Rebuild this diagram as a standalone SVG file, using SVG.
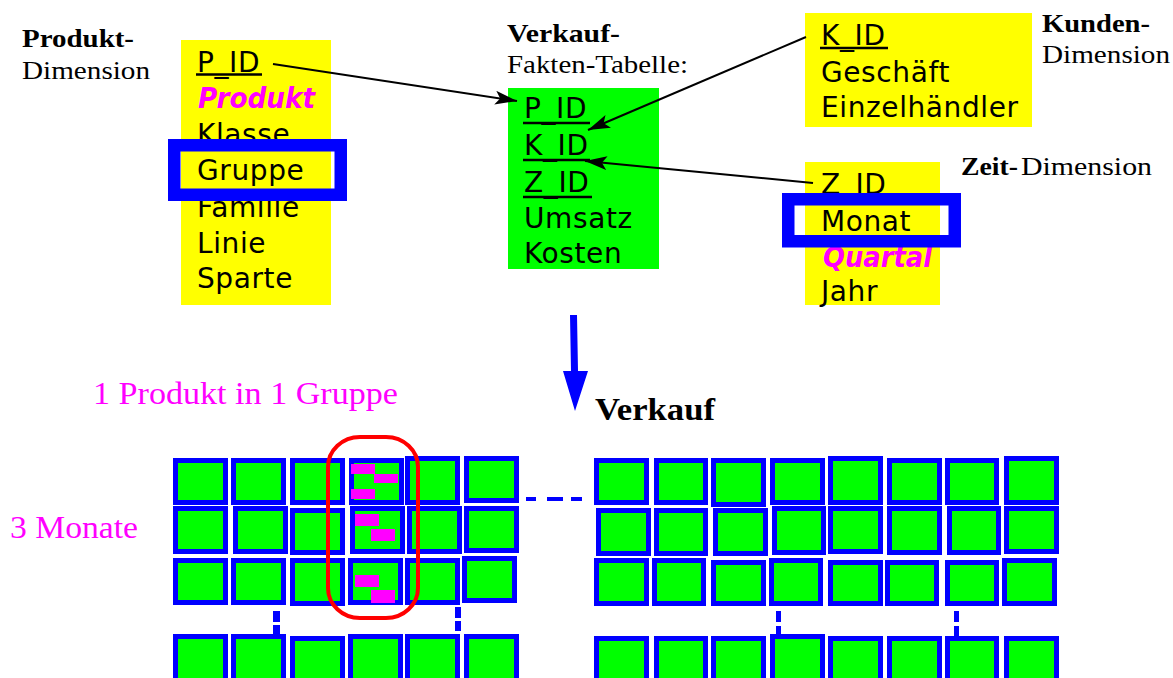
<svg xmlns="http://www.w3.org/2000/svg" width="1173" height="678" viewBox="0 0 1173 678">
<style>
.t{font-family:"DejaVu Sans","Noto Sans",sans-serif;font-size:28px;letter-spacing:0.6px;fill:#000}
.em{font-family:"DejaVu Sans","Noto Sans",sans-serif;font-size:28px;font-weight:bold;font-style:italic;fill:#ff00ff}
.lb{font-family:"Liberation Serif","Times New Roman",serif;font-size:26px;fill:#000}
.b{font-weight:bold}
.mg{font-family:"Liberation Serif","Times New Roman",serif;font-size:32px;fill:#ff00ff}
.ul{stroke:#000;stroke-width:2.5}
.hl{fill:none;stroke:#0000ff;stroke-width:12.5}
.c{fill:#00ff00;stroke:#0000ff;stroke-width:5}
.pk{fill:#ff00ff}
.dash{fill:#0000ff}
.conn{fill:none;stroke:#000;stroke-width:2}
</style>
<defs>
<marker id="ah" markerUnits="userSpaceOnUse" markerWidth="24" markerHeight="16" refX="22" refY="7" orient="auto">
<path d="M0,0 L22,7 L0,14 L5,7 Z" fill="#000"/>
</marker>
</defs>

<g id="produkt-dimension">
<rect x="181" y="40" width="150" height="265" fill="#ffff00"/>
<text class="t" x="197" y="72">P_ID</text>
<line class="ul" x1="196" y1="74.5" x2="262" y2="74.5"/>
<text class="em" x="198" y="108" textLength="117" lengthAdjust="spacingAndGlyphs">Produkt</text>
<text class="t" x="197" y="144">Klasse</text>
<text class="t" x="197" y="180">Gruppe</text>
<text class="t" x="197" y="217">Familie</text>
<text class="t" x="197" y="253">Linie</text>
<text class="t" x="197" y="288">Sparte</text>
<rect class="hl" x="174.25" y="145.25" width="166.5" height="49.5"/>
<text class="lb b" x="22" y="47" textLength="112" lengthAdjust="spacingAndGlyphs">Produkt-</text>
<text class="lb" x="22" y="79" textLength="128" lengthAdjust="spacingAndGlyphs">Dimension</text>
</g>

<g id="verkauf-fakten">
<rect x="508" y="88" width="151" height="181" fill="#00ff00"/>
<text class="t" x="524" y="118">P_ID</text>
<line class="ul" x1="523" y1="123" x2="590" y2="123"/>
<text class="t" x="524" y="155">K_ID</text>
<line class="ul" x1="523" y1="160" x2="590" y2="160"/>
<text class="t" x="524" y="192">Z_ID</text>
<line class="ul" x1="523" y1="197" x2="592" y2="197"/>
<text class="t" x="524" y="228">Umsatz</text>
<text class="t" x="524" y="263">Kosten</text>
<text class="lb b" x="507" y="42" textLength="113" lengthAdjust="spacingAndGlyphs">Verkauf-</text>
<text class="lb" x="507" y="73" textLength="181" lengthAdjust="spacingAndGlyphs">Fakten-Tabelle:</text>
</g>

<g id="kunden-dimension">
<rect x="805" y="13" width="227" height="114" fill="#ffff00"/>
<text class="t" x="821" y="45">K_ID</text>
<line class="ul" x1="820" y1="48" x2="888" y2="48"/>
<text class="t" x="821" y="82">Geschäft</text>
<text class="t" x="821" y="117">Einzelhändler</text>
<text class="lb b" x="1042" y="32" textLength="108" lengthAdjust="spacingAndGlyphs">Kunden-</text>
<text class="lb" x="1042" y="63" textLength="128" lengthAdjust="spacingAndGlyphs">Dimension</text>
</g>

<g id="zeit-dimension">
<rect x="805" y="162" width="135" height="143" fill="#ffff00"/>
<text class="t" x="821" y="194">Z_ID</text>
<line class="ul" x1="820" y1="197" x2="888" y2="197"/>
<text class="t" x="821" y="231">Monat</text>
<text class="em" x="823" y="267" textLength="109" lengthAdjust="spacingAndGlyphs">Quartal</text>
<text class="t" x="821" y="301">Jahr</text>
<rect class="hl" x="788.25" y="199.25" width="166.5" height="42"/>
<text class="lb b" x="961" y="175" textLength="57" lengthAdjust="spacingAndGlyphs">Zeit-</text>
<text class="lb" x="1021" y="175" textLength="131" lengthAdjust="spacingAndGlyphs">Dimension</text>
</g>

<g id="connectors">
<line class="conn" x1="273" y1="64" x2="517" y2="101" marker-end="url(#ah)"/>
<line class="conn" x1="806" y1="37" x2="588" y2="130" marker-end="url(#ah)"/>
<line class="conn" x1="813" y1="183" x2="585" y2="161" marker-end="url(#ah)"/>
<polygon points="570,315 577,315 578,371 588,371 575,411 563,371 571,371" fill="#0000ff"/>
</g>

<g id="labels">
<text class="mg" x="93" y="404" textLength="305" lengthAdjust="spacingAndGlyphs">1 Produkt in 1 Gruppe</text>
<text class="mg" x="10" y="538" textLength="128" lengthAdjust="spacingAndGlyphs">3 Monate</text>
<text class="lb b" x="595" y="420" textLength="120" lengthAdjust="spacingAndGlyphs" style="font-size:32px">Verkauf</text>
</g>

<g id="cube-left">
<rect class="c" x="175.5" y="460.5" width="50" height="42"/>
<rect class="c" x="233.5" y="460.5" width="50" height="42"/>
<rect class="c" x="292.5" y="460.5" width="50" height="42"/>
<rect class="c" x="351.5" y="460.5" width="50" height="42"/>
<rect class="c" x="407.5" y="458.5" width="50" height="44"/>
<rect class="c" x="466.5" y="458.5" width="50" height="42"/>

<rect class="c" x="175.5" y="508.5" width="50" height="43"/>
<rect class="c" x="235.5" y="508.5" width="50" height="43"/>
<rect class="c" x="292.5" y="510.5" width="50" height="42"/>
<rect class="c" x="352.5" y="508.5" width="50" height="43"/>
<rect class="c" x="409.5" y="508.5" width="50" height="43"/>
<rect class="c" x="466.5" y="508.5" width="50" height="42"/>

<rect class="c" x="175.5" y="560.5" width="50" height="42"/>
<rect class="c" x="233.5" y="560.5" width="50" height="42"/>
<rect class="c" x="292.5" y="560.5" width="50" height="43"/>
<rect class="c" x="350.5" y="560.5" width="50" height="42"/>
<rect class="c" x="407.5" y="560.5" width="50" height="42"/>
<rect class="c" x="464.5" y="558.5" width="50" height="42"/>

<rect class="c" x="175.5" y="636.5" width="50" height="50"/>
<rect class="c" x="233.5" y="636.5" width="50" height="50"/>
<rect class="c" x="292.5" y="638.5" width="50" height="50"/>
<rect class="c" x="350.5" y="636.5" width="50" height="50"/>
<rect class="c" x="407.5" y="636.5" width="50" height="50"/>
<rect class="c" x="466.5" y="636.5" width="50" height="50"/>

<rect class="pk" x="351" y="464" width="24" height="10"/>
<rect class="pk" x="374" y="474" width="24" height="9"/>
<rect class="pk" x="351" y="489" width="24" height="10"/>
<rect class="pk" x="355" y="514" width="24" height="12"/>
<rect class="pk" x="371" y="529" width="24" height="12"/>
<rect class="pk" x="355" y="575" width="24" height="12"/>
<rect class="pk" x="371" y="590" width="24" height="13"/>

<rect class="dash" x="526" y="497" width="10" height="4"/>
<rect class="dash" x="547" y="497" width="16" height="4"/>
<rect class="dash" x="571" y="497" width="11" height="4"/>
<rect class="dash" x="273" y="611" width="7" height="11"/>
<rect class="dash" x="273" y="625" width="7" height="10"/>
<rect class="dash" x="455" y="607" width="6" height="11"/>
<rect class="dash" x="455" y="621" width="6" height="10"/>

<rect x="328" y="437" width="90" height="181" rx="32" ry="30" fill="none" stroke="#ff0000" stroke-width="4"/>
</g>

<g id="cube-right">
<rect class="c" x="596.5" y="460.5" width="50" height="42"/>
<rect class="c" x="656.5" y="460.5" width="49" height="42"/>
<rect class="c" x="713.5" y="460.5" width="50" height="44"/>
<rect class="c" x="772.5" y="460.5" width="50" height="42"/>
<rect class="c" x="830.5" y="458.5" width="50" height="44"/>
<rect class="c" x="889.5" y="460.5" width="50" height="42"/>
<rect class="c" x="947.5" y="460.5" width="49" height="42"/>
<rect class="c" x="1006.5" y="458.5" width="50" height="44"/>

<rect class="c" x="598.5" y="510.5" width="50" height="43"/>
<rect class="c" x="656.5" y="510.5" width="49" height="43"/>
<rect class="c" x="715.5" y="510.5" width="50" height="43"/>
<rect class="c" x="774.5" y="508.5" width="49" height="44"/>
<rect class="c" x="830.5" y="508.5" width="50" height="43"/>
<rect class="c" x="889.5" y="508.5" width="50" height="44"/>
<rect class="c" x="949.5" y="508.5" width="49" height="44"/>
<rect class="c" x="1006.5" y="508.5" width="50" height="43"/>

<rect class="c" x="596.5" y="560.5" width="50" height="43"/>
<rect class="c" x="654.5" y="560.5" width="49" height="43"/>
<rect class="c" x="713.5" y="562.5" width="50" height="41"/>
<rect class="c" x="771.5" y="560.5" width="49" height="43"/>
<rect class="c" x="830.5" y="562.5" width="50" height="41"/>
<rect class="c" x="887.5" y="562.5" width="49" height="41"/>
<rect class="c" x="947.5" y="562.5" width="49" height="41"/>
<rect class="c" x="1004.5" y="560.5" width="50" height="43"/>

<rect class="c" x="596.5" y="638.5" width="50" height="50"/>
<rect class="c" x="656.5" y="638.5" width="49" height="50"/>
<rect class="c" x="713.5" y="638.5" width="50" height="50"/>
<rect class="c" x="772.5" y="636.5" width="50" height="50"/>
<rect class="c" x="830.5" y="638.5" width="50" height="50"/>
<rect class="c" x="889.5" y="638.5" width="50" height="50"/>
<rect class="c" x="947.5" y="638.5" width="49" height="50"/>
<rect class="c" x="1006.5" y="638.5" width="50" height="50"/>

<rect class="dash" x="776" y="611" width="5" height="11"/>
<rect class="dash" x="776" y="626" width="5" height="10"/>
<rect class="dash" x="954" y="611" width="5" height="11"/>
<rect class="dash" x="954" y="626" width="5" height="10"/>
</g>
</svg>
